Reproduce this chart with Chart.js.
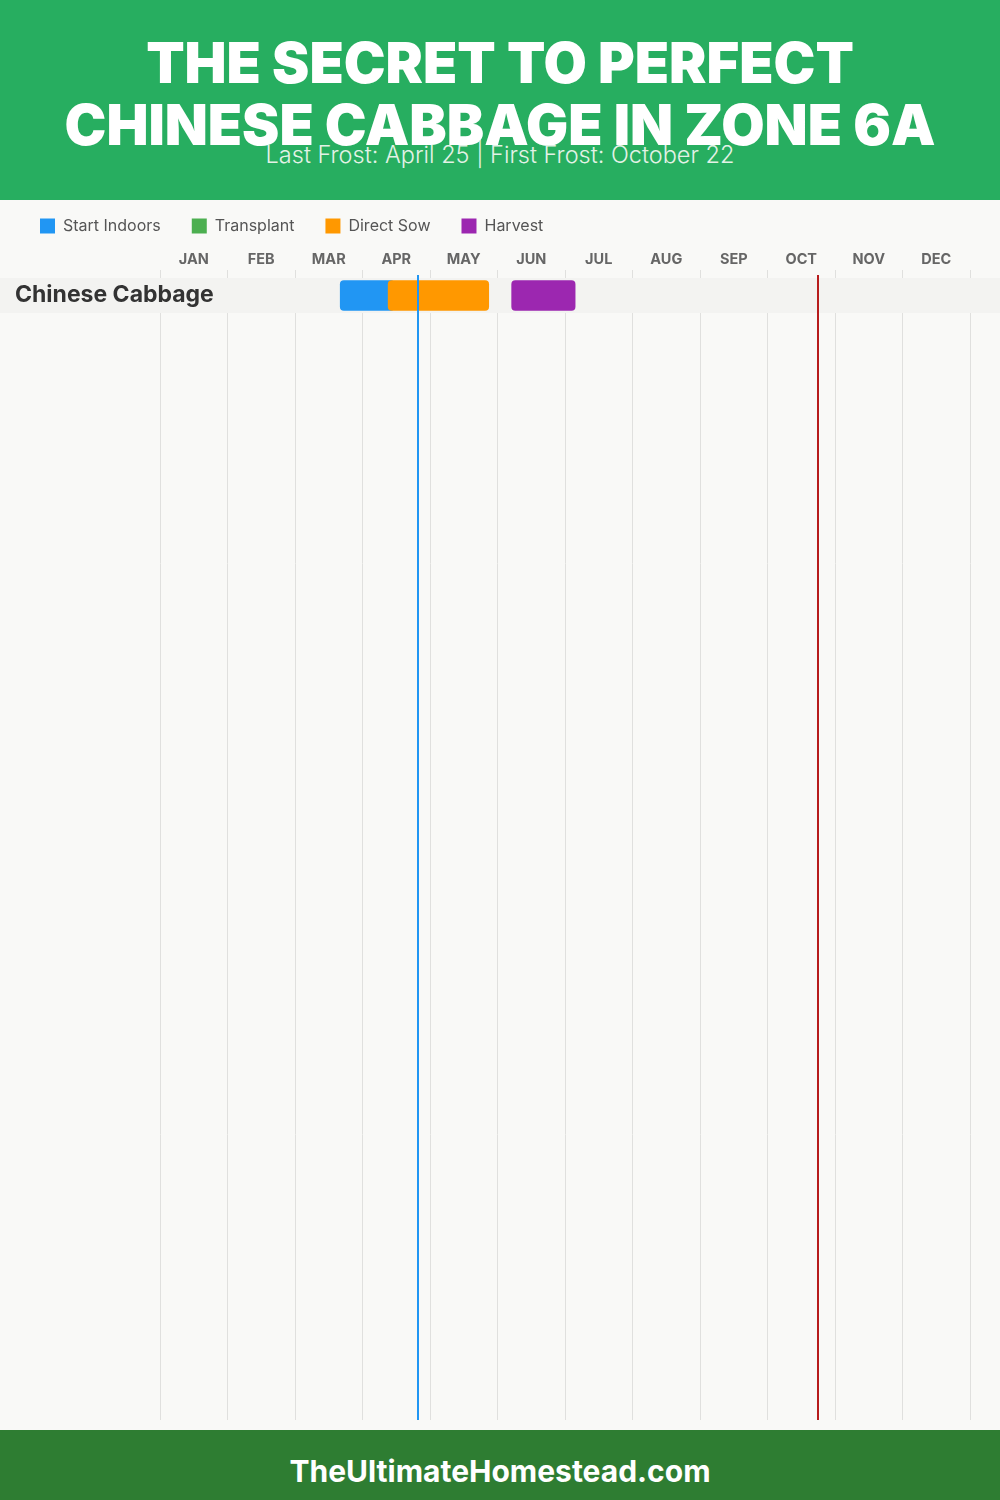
<!DOCTYPE html>
<html>
<head>
<meta charset="utf-8">
<script src="https://cdn.jsdelivr.net/npm/chart.js@4"></script>
<style>
  html, body { margin: 0; padding: 0; }
  body { width: 1000px; height: 1500px; position: relative; background: #f9f9f7; font-family: Inter, "Open Sans", sans-serif; overflow: hidden; }
  #header { position: absolute; left: 0; top: 0; width: 1000px; height: 200px; background: #27ae60; }
  .title { position: absolute; left: 0; width: 1000px; text-align: center; color: #fff; font-weight: 900; font-size: 56px; line-height: 1; letter-spacing: 0; }
  #t1 { top: 35px; }
  #t2 { top: 97px; }
  #sub { position: absolute; left: 0; width: 1000px; top: 143px; text-align: center; color: #e3f2e6; font-size: 23.5px; font-weight: 300; line-height: 1; }
  #chartBox { position: absolute; left: 0; top: 200px; width: 1000px; height: 1230px; background: #f9f9f7; }
  #footer { position: absolute; left: 0; top: 1430px; width: 1000px; height: 70px; background: #2e7d32; color: #fff; font-weight: 700; font-size: 30px; text-align: center; line-height: 82px; }
</style>
</head>
<body>
<div id="header">
  <div class="title" id="t1">THE SECRET TO PERFECT</div>
  <div class="title" id="t2">CHINESE CABBAGE IN ZONE 6A</div>
  <div id="sub">Last Frost: April 25 | First Frost: October 22</div>
</div>
<div id="chartBox"><canvas id="calendarChart"></canvas></div>
<div id="footer">TheUltimateHomestead.com</div>

<script>
// --- Planting calendar data (values in months from Jan 1) ---
const months = ["JAN", "FEB", "MAR", "APR", "MAY", "JUN", "JUL", "AUG", "SEP", "OCT", "NOV", "DEC"];
const crops = ["Chinese Cabbage"];
const startIndoors = [[2.67, 3.47]];
const transplant = [];
const directSow = [[3.38, 4.87]];
const harvest = [[5.21, 6.15]];
const lastFrost = 3.82;   // April 25
const firstFrost = 9.75;  // October 22

const ROW_HEIGHT = 35;
const AREA_TOP = 78;
const LEGEND_PAD = 31;

const toRows = (ranges) => ranges.map((r, i) => ({ x: r, y: i + 0.5 }));

function paintBands(chart, left, right) {
  const { ctx, scales } = chart;
  ctx.save();
  ctx.fillStyle = "#f3f3f1";
  crops.forEach((c, i) => {
    const y0 = scales.y.getPixelForValue(i);
    const y1 = scales.y.getPixelForValue(i + 1);
    ctx.fillRect(left, y0, right - left, y1 - y0);
  });
  ctx.restore();
}

// Row band + frost lines
const rowBandPlugin = {
  id: "rowBand",
  beforeDraw(chart) {
    paintBands(chart, 0, chart.width);
  },
  beforeDatasetsDraw(chart) {
    // cover the month grid lines inside the crop rows
    paintBands(chart, chart.chartArea.left, chart.width);
  },
  afterDatasetsDraw(chart) {
    const { ctx, scales, chartArea } = chart;
    const drawLine = (value, color) => {
      const x = Math.round(scales.x.getPixelForValue(value));
      ctx.save();
      ctx.strokeStyle = color;
      ctx.lineWidth = 2;
      ctx.beginPath();
      ctx.moveTo(x, chartArea.top - 3);
      ctx.lineTo(x, chartArea.bottom);
      ctx.stroke();
      ctx.restore();
    };
    drawLine(lastFrost, "#2196f3");
    drawLine(firstFrost, "#b71c1c");
  },
};

const ctx = document.getElementById("calendarChart").getContext("2d");

new Chart(ctx, {
  type: "bar",
  data: {
    datasets: [
      { label: "Start Indoors", data: toRows(startIndoors), backgroundColor: "#2196f3", order: 3 },
      { label: "Transplant", data: toRows(transplant), backgroundColor: "#4caf50", order: 2 },
      { label: "Direct Sow", data: toRows(directSow), backgroundColor: "#ff9800", order: 1 },
      { label: "Harvest", data: toRows(harvest), backgroundColor: "#9c27b0", order: 0 },
    ],
  },
  options: {
    indexAxis: "y",
    responsive: true,
    maintainAspectRatio: false,
    animation: false,
    datasets: {
      bar: {
        grouped: false,
        barThickness: 30,
        borderRadius: 4,
        borderSkipped: false,
      },
    },
    layout: {
      padding: { top: -13, left: 40 - LEGEND_PAD, right: 30, bottom: 10 },
    },
    scales: {
      x: {
        type: "linear",
        position: "top",
        min: 0,
        max: 12,
        afterBuildTicks: (scale) => {
          const ticks = [];
          months.forEach((m, i) => {
            ticks.push({ value: i });
            ticks.push({ value: i + 0.5 });
          });
          ticks.push({ value: months.length });
          scale.ticks = ticks;
        },
        afterFit: (scale) => {
          const lg = scale.chart.legend;
          const lgBottom = lg && lg.bottom ? lg.bottom : 44;
          scale.height = AREA_TOP - lgBottom;
        },
        ticks: {
          autoSkip: false,
          maxRotation: 0,
          padding: 2,
          color: "#666666",
          font: { family: "Inter", size: 14.5, weight: "700" },
          callback: (value) => (Number.isInteger(value) ? "" : months[Math.floor(value)]),
        },
        grid: {
          color: (c) => (c.tick && Number.isInteger(c.tick.value) ? "#e0e0de" : "rgba(0,0,0,0)"),
          lineWidth: 1,
          tickLength: 8,
        },
        border: { display: false },
      },
      y: {
        type: "linear",
        offset: false,
        reverse: true,
        min: 0,
        max: 1142 / ROW_HEIGHT,
        afterBuildTicks: (scale) => {
          scale.ticks = crops.map((c, i) => ({ value: i + 0.5 }));
        },
        afterFit: (scale) => {
          scale.width = 160 - (40 - LEGEND_PAD);
        },
        ticks: {
          autoSkip: false,
          mirror: true,
          padding: -145,
          z: 1,
          color: "#333333",
          font: { family: "Inter", size: 23, weight: "700" },
          callback: (value, index) => crops[index],
        },
        grid: { display: false },
        border: { display: false },
      },
    },
    plugins: {
      legend: {
        position: "top",
        align: "start",
        labels: {
          boxWidth: 15,
          boxHeight: 15,
          padding: LEGEND_PAD,
          color: "#555555",
          font: { family: "Inter", size: 16 },
          sort: (a, b) => a.datasetIndex - b.datasetIndex,
        },
      },
      tooltip: { enabled: false },
    },
  },
  plugins: [rowBandPlugin],
});
</script>
</body>
</html>
